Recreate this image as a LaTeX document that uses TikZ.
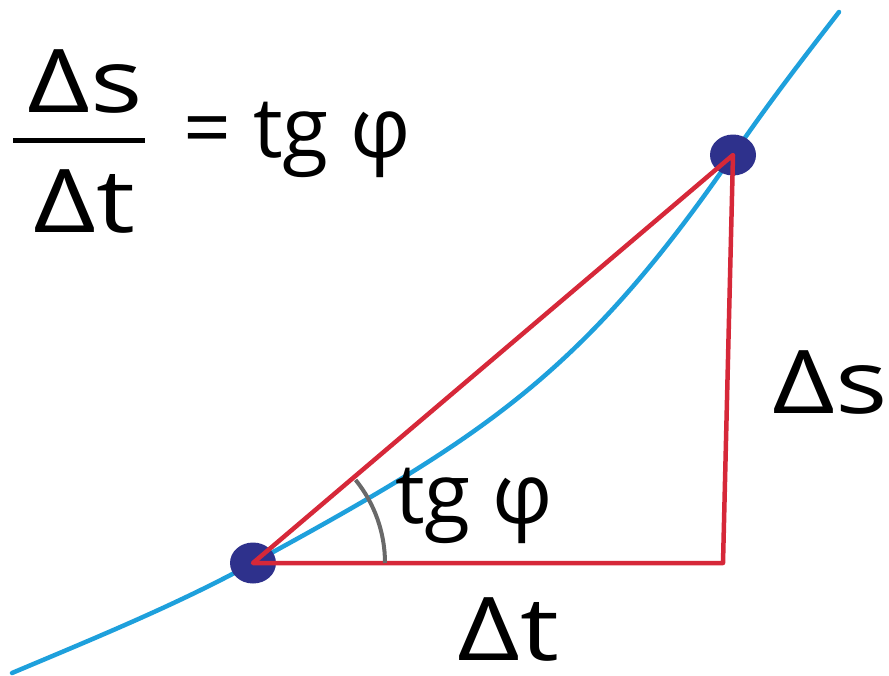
\documentclass[tikz,border=0pt]{standalone}
\usepackage{fontspec}
\setmainfont{Open Sans}
\newfontfamily\wideface[FakeStretch=1.25]{Open Sans}
\usepackage{xcolor}
\usetikzlibrary{shapes.geometric}
\definecolor{curveblue}{RGB}{30,160,220}
\definecolor{legred}{RGB}{214,40,57}
\definecolor{dotblue}{RGB}{46,49,140}
\definecolor{arcgray}{RGB}{105,105,105}
\newcommand{\handsize}[1]{\fontsize{#1}{#1}\selectfont}

\begin{document}
\begin{tikzpicture}[x=1pt, y=-1pt,
    lbl/.style={inner sep=0pt, anchor=base, text=black, text depth=0pt},
    big/.style={lbl, font=\wideface\handsize{88}},
    mid/.style={lbl, font=\handsize{84}},
    curve/.style={curveblue, line width=4.5pt, line cap=round},
    leg/.style={legred, line width=4.5pt, line join=round},
    pt/.style={ellipse, fill=dotblue, minimum width=46pt, minimum height=41pt, inner sep=0pt}]

  \useasboundingbox (0,0) rectangle (889,675);

  \coordinate (start) at (12,673);
  \coordinate (A) at (253,563);
  \coordinate (B) at (733,155);
  \coordinate (tip) at (839,12);
  \coordinate (corner) at (723,563);

  \draw[curve] (start) .. controls (100,636) and (180,603) .. (A)
    .. controls (484,437) and (582,374) .. (B)
    .. controls (770,101) and (805,56) .. (tip);

  \node[pt] (dot1) at (A) {};
  \node[pt] (dot2) at (B) {};

  \draw[leg] (dot1.center) -- (dot2.center) -- (corner) -- cycle;
  \draw[arcgray, line width=4pt] ([xshift=132pt]dot1.center) arc[start angle=0, end angle=-39, radius=132];

  \coordinate (barL) at (13,140);
  \coordinate (barR) at (145,140);
  \draw[line width=5pt] (barL) -- (barR);

  \node[big] (num) at (85,112) {Δs};
  \node[big] (den) at (84,232) {Δt};
  \node[mid, anchor=base west] (eq) at (183,157) {= tg φ};
  \node[mid] (tgmid) at (474,523) {tg φ};
  \node[big] (ds) at (830,413) {Δs};
  \node[big] (dt) at (508,660) {Δt};
\end{tikzpicture}
\end{document}
